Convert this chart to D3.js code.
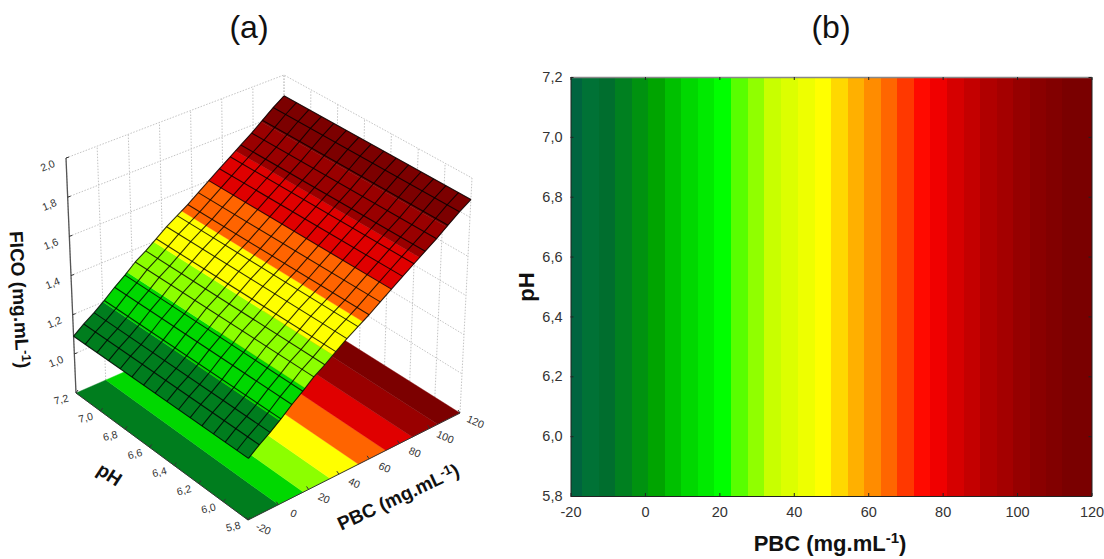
<!DOCTYPE html>
<html>
<head>
<meta charset="utf-8">
<script src="https://cdnjs.cloudflare.com/ajax/libs/d3/7.8.5/d3.min.js"></script>
<style>
  html, body { margin: 0; background: #fff; }
  svg { display: block; font-family: "Liberation Sans", Arial, sans-serif; }
  .tick3d { font-size: 10.5px; fill: #333; text-anchor: middle; }
  .title3d { font-size: 19px; font-weight: bold; fill: #111; text-anchor: middle; }
  .wall { fill: none; stroke: #c4c4c4; stroke-width: 1; stroke-dasharray: 1.5 1.5; }
  .map-axis text { font-size: 14.5px; fill: #333; font-family: "Liberation Sans", Arial, sans-serif; }
  .map-axis line, .map-axis path { stroke: #222; }
  .map-top path { stroke: #888; stroke-width: 1.4; }
  .band { shape-rendering: crispEdges; }
</style>
</head>
<body>
<svg id="chart" width="1104" height="559"></svg>
<script>
// Axis ticks, shared by both panels
const pbcTicks = [-20, 0, 20, 40, 60, 80, 100, 120];
const phTicks = [5.8, 6.0, 6.2, 6.4, 6.6, 6.8, 7.0, 7.2];
const ficoTicks = [1.0, 1.2, 1.4, 1.6, 1.8, 2.0];

// Surface mesh of panel (a): FICO read along PBC, flat along pH
const pbcGrid = [-20, -13, -6, 1, 8, 15, 22, 29, 36, 43, 50, 57, 64, 71, 78, 85, 92, 99, 106, 113, 120];
const ficoGrid = [1.09, 1.13, 1.165, 1.205, 1.25, 1.29, 1.335, 1.37, 1.41, 1.45, 1.485, 1.52, 1.56, 1.6, 1.64, 1.68, 1.72, 1.76, 1.805, 1.85, 1.89];
const phCells = [5.8, 5.893, 5.987, 6.08, 6.173, 6.267, 6.36, 6.453, 6.547, 6.64, 6.733, 6.827, 6.92, 7.013, 7.107, 7.2];

// Contour levels of panel (a)
const levels = [1.2, 1.3, 1.4, 1.5, 1.6, 1.7, 1.8];
const levelColors = ['#007d1e', '#00d800', '#8cff00', '#ffff00', '#ff6400', '#e00000', '#990000', '#7c0000'];

// Contour bands of panel (b), edges in PBC units
const mapEdges = [-17, -12.4, -8, -3.5, 0.8, 5.4, 9.7, 14.2, 18.6, 23, 27.7, 32, 36.5, 41, 45.6, 50, 54.5, 58.9, 63.5, 67.8, 72.3, 76.7, 81.2, 85.7, 90, 94.7, 99, 103.5, 107.8, 112];
const mapColors = ['#00643f', '#007236', '#006e2e', '#008020', '#009210', '#00a400', '#00c000', '#00d800', '#00ea00', '#00ff00', '#58ff00', '#90ff00', '#c8ff00', '#dcff00', '#eeff00', '#ffff00', '#ffd800', '#ffb000', '#ff8c00', '#ff6600', '#ff3800', '#ff0a00', '#f00000', '#d60000', '#c40000', '#b00000', '#a40000', '#960000', '#8a0000', '#820000', '#7a0000'];

const comma = d => d.toFixed(1).replace('.', ',');
const svg = d3.select('#chart');

svg.append('text').attr('x', 249).attr('y', 38).attr('text-anchor', 'middle')
  .attr('font-size', 32).attr('fill', '#111').text('(a)');
svg.append('text').attr('x', 831).attr('y', 38).attr('text-anchor', 'middle')
  .attr('font-size', 32).attr('fill', '#111').text('(b)');

// ---- Panel (a): 3D surface ----
// Box corners on screen, floor and ceiling
const floorBox = { a: [76, 393], b: [248, 520], c: [460, 413], d: [284, 302] };
const ceilBox = { a: [66, 158], b: [250, 265], c: [472, 178], d: [284, 75] };

const uScale = d3.scaleLinear().domain([-20, 120]).range([0, 1]);
const vScale = d3.scaleLinear().domain([7.2, 5.8]).range([0, 1]);
const wScale = d3.scaleLinear().domain([0.8, 2.0]).range([0, 1]);
const ficoAt = d3.scaleLinear().domain(pbcGrid).range(ficoGrid);

function bilinear(box, u, v) {
  return [0, 1].map(i =>
    box.a[i] * (1 - u) * (1 - v) + box.b[i] * (1 - u) * v +
    box.d[i] * u * (1 - v) + box.c[i] * u * v);
}

function project(pbc, ph, z) {
  const u = uScale(pbc), v = vScale(ph), w = wScale(z);
  const p0 = bilinear(floorBox, u, v);
  const p1 = bilinear(ceilBox, u, v);
  return [p0[0] + (p1[0] - p0[0]) * w, p0[1] + (p1[1] - p0[1]) * w];
}

const a = svg.append('g').attr('class', 'panel-a');
const line = d3.line();
const zBottom = wScale.domain()[0];
const zTop = wScale.domain()[1];
const pbcMin = pbcTicks[0], pbcMax = pbcTicks[pbcTicks.length - 1];
const phMin = phTicks[0], phMax = phTicks[phTicks.length - 1];

// Back walls
const wallPath = pts => a.append('path').attr('class', 'wall').attr('d', line(pts));
pbcTicks.forEach(p => wallPath([project(p, phMax, zBottom), project(p, phMax, zTop)]));
phTicks.forEach(p => wallPath([project(pbcMax, p, zBottom), project(pbcMax, p, zTop)]));
ficoTicks.forEach(z => {
  wallPath([project(pbcMin, phMax, z), project(pbcMax, phMax, z), project(pbcMax, phMin, z)]);
});

// Floor and surface bands share the same breaks on the PBC axis
const breaks = [pbcMin, ...levels.map(l => ficoAt.invert(l)), pbcMax];

levelColors.forEach((color, i) => {
  const p0 = breaks[i], p1 = breaks[i + 1];
  a.append('path')
    .attr('d', line([project(p0, phMax, zBottom), project(p1, phMax, zBottom), project(p1, phMin, zBottom), project(p0, phMin, zBottom)]) + 'Z')
    .attr('fill', color).attr('stroke', color).attr('stroke-width', 0.4);
});

// Axis lines and ticks
a.append('path').attr('fill', 'none').attr('stroke', '#555').attr('stroke-width', 1.3)
  .attr('d', line([project(pbcMin, phMax, zBottom), project(pbcMin, phMax, zTop)]));
a.append('path').attr('fill', 'none').attr('stroke', '#333').attr('stroke-width', 1)
  .attr('d', line([project(pbcMin, phMax, zBottom), project(pbcMin, phMin, zBottom), project(pbcMax, phMin, zBottom)]));

function addTick(pt, dx, dy) {
  a.append('line').attr('stroke', '#333')
    .attr('x1', pt[0]).attr('y1', pt[1]).attr('x2', pt[0] + dx).attr('y2', pt[1] + dy);
}

function addLabel(pt, dx, dy, angle, text) {
  a.append('text').attr('class', 'tick3d')
    .attr('transform', `translate(${pt[0] + dx},${pt[1] + dy}) rotate(${angle})`)
    .text(text);
}

ficoTicks.forEach(z => {
  const pt = project(pbcMin, phMax, z);
  addTick(pt, 3, -1);
  addLabel(pt, -17, 11, -22, comma(z));
});
phTicks.forEach(p => {
  const pt = project(pbcMin, p, zBottom);
  addTick(pt, 2, -3);
  addLabel(pt, -14, 10, -14, comma(p));
});
pbcTicks.forEach(p => {
  const pt = project(p, phMin, zBottom);
  addTick(pt, -2, -3);
  addLabel(pt, 14, 12, 24, String(p));
});

// Surface bands, with the mesh breaks in between so they follow the surface
levelColors.forEach((color, i) => {
  const p0 = breaks[i], p1 = breaks[i + 1];
  const stops = [p0, ...pbcGrid.filter(p => p > p0 && p < p1), p1];
  const side1 = stops.map(p => project(p, phMax, ficoAt(p)));
  const side2 = stops.slice().reverse().map(p => project(p, phMin, ficoAt(p)));
  a.append('path').attr('d', line(side1.concat(side2)) + 'Z')
    .attr('fill', color).attr('stroke', color).attr('stroke-width', 0.4);
});

// Surface mesh
const mesh = a.append('g').attr('fill', 'none').attr('stroke', '#000')
  .attr('stroke-width', 1.1).attr('stroke-opacity', 0.8).attr('stroke-linejoin', 'round');
pbcGrid.forEach(p => {
  mesh.append('path').attr('d', line([project(p, phMax, ficoAt(p)), project(p, phMin, ficoAt(p))]));
});
phCells.forEach(ph => {
  mesh.append('path').attr('d', line(pbcGrid.map(p => project(p, ph, ficoAt(p)))));
});

// 3D axis titles
function title3d(x, y, angle, text, sup) {
  const t = a.append('text').attr('class', 'title3d')
    .attr('transform', `translate(${x},${y}) rotate(${angle})`);
  t.append('tspan').text(text);
  if (sup) {
    t.append('tspan').attr('dy', -6).attr('font-size', 13).text(sup);
    t.append('tspan').attr('dy', 6).text(')');
  }
}
title3d(13, 300, 87, 'FICO (mg.mL', '-1');
title3d(106, 480, 33, 'pH');
title3d(401, 503, -25, 'PBC (mg.mL', '-1');

// ---- Panel (b): contour map ----
const mapBox = { left: 570.5, right: 1091.5, top: 77, bottom: 496 };
const x = d3.scaleLinear().domain([pbcMin, pbcMax]).range([mapBox.left, mapBox.right]);
const y = d3.scaleLinear().domain([phMin, phMax]).range([mapBox.bottom, mapBox.top]);
const b = svg.append('g').attr('class', 'panel-b');
const mapBreaks = [pbcMin, ...mapEdges, pbcMax];

b.selectAll('rect.band').data(mapColors).join('rect')
  .attr('class', 'band')
  .attr('x', (d, i) => x(mapBreaks[i]))
  .attr('width', (d, i) => x(mapBreaks[i + 1]) - x(mapBreaks[i]))
  .attr('y', mapBox.top)
  .attr('height', mapBox.bottom - mapBox.top)
  .attr('fill', d => d);

function styleAxis(g, cls, showText) {
  g.attr('class', cls);
  if (!showText) g.selectAll('text').remove();
}

b.append('g').attr('transform', `translate(0,${mapBox.bottom})`)
  .call(d3.axisBottom(x).tickValues(pbcTicks).tickFormat(String).tickSize(-3).tickPadding(11).tickSizeOuter(0))
  .call(styleAxis, 'map-axis', true);
b.append('g').attr('transform', `translate(0,${mapBox.top})`)
  .call(d3.axisTop(x).tickValues(pbcTicks).tickSize(-3).tickSizeOuter(0))
  .call(styleAxis, 'map-axis map-top', false);
b.append('g').attr('transform', `translate(${mapBox.left},0)`)
  .call(d3.axisLeft(y).tickValues(phTicks).tickFormat(comma).tickSize(-3).tickPadding(8).tickSizeOuter(0))
  .call(styleAxis, 'map-axis', true);
b.append('g').attr('transform', `translate(${mapBox.right},0)`)
  .call(d3.axisRight(y).tickValues(phTicks).tickSize(-3).tickSizeOuter(0))
  .call(styleAxis, 'map-axis', false);

const xTitle = b.append('text').attr('x', 830).attr('y', 551).attr('text-anchor', 'middle')
  .attr('font-size', 22).attr('font-weight', 'bold').attr('fill', '#111');
xTitle.append('tspan').text('PBC (mg.mL');
xTitle.append('tspan').attr('dy', -8).attr('font-size', 15).text('-1');
xTitle.append('tspan').attr('dy', 8).text(')');

b.append('text').attr('transform', `translate(534,287) rotate(-90)`).attr('text-anchor', 'middle')
  .attr('font-size', 22).attr('font-weight', 'bold').attr('fill', '#111').text('pH');
</script>
</body>
</html>
